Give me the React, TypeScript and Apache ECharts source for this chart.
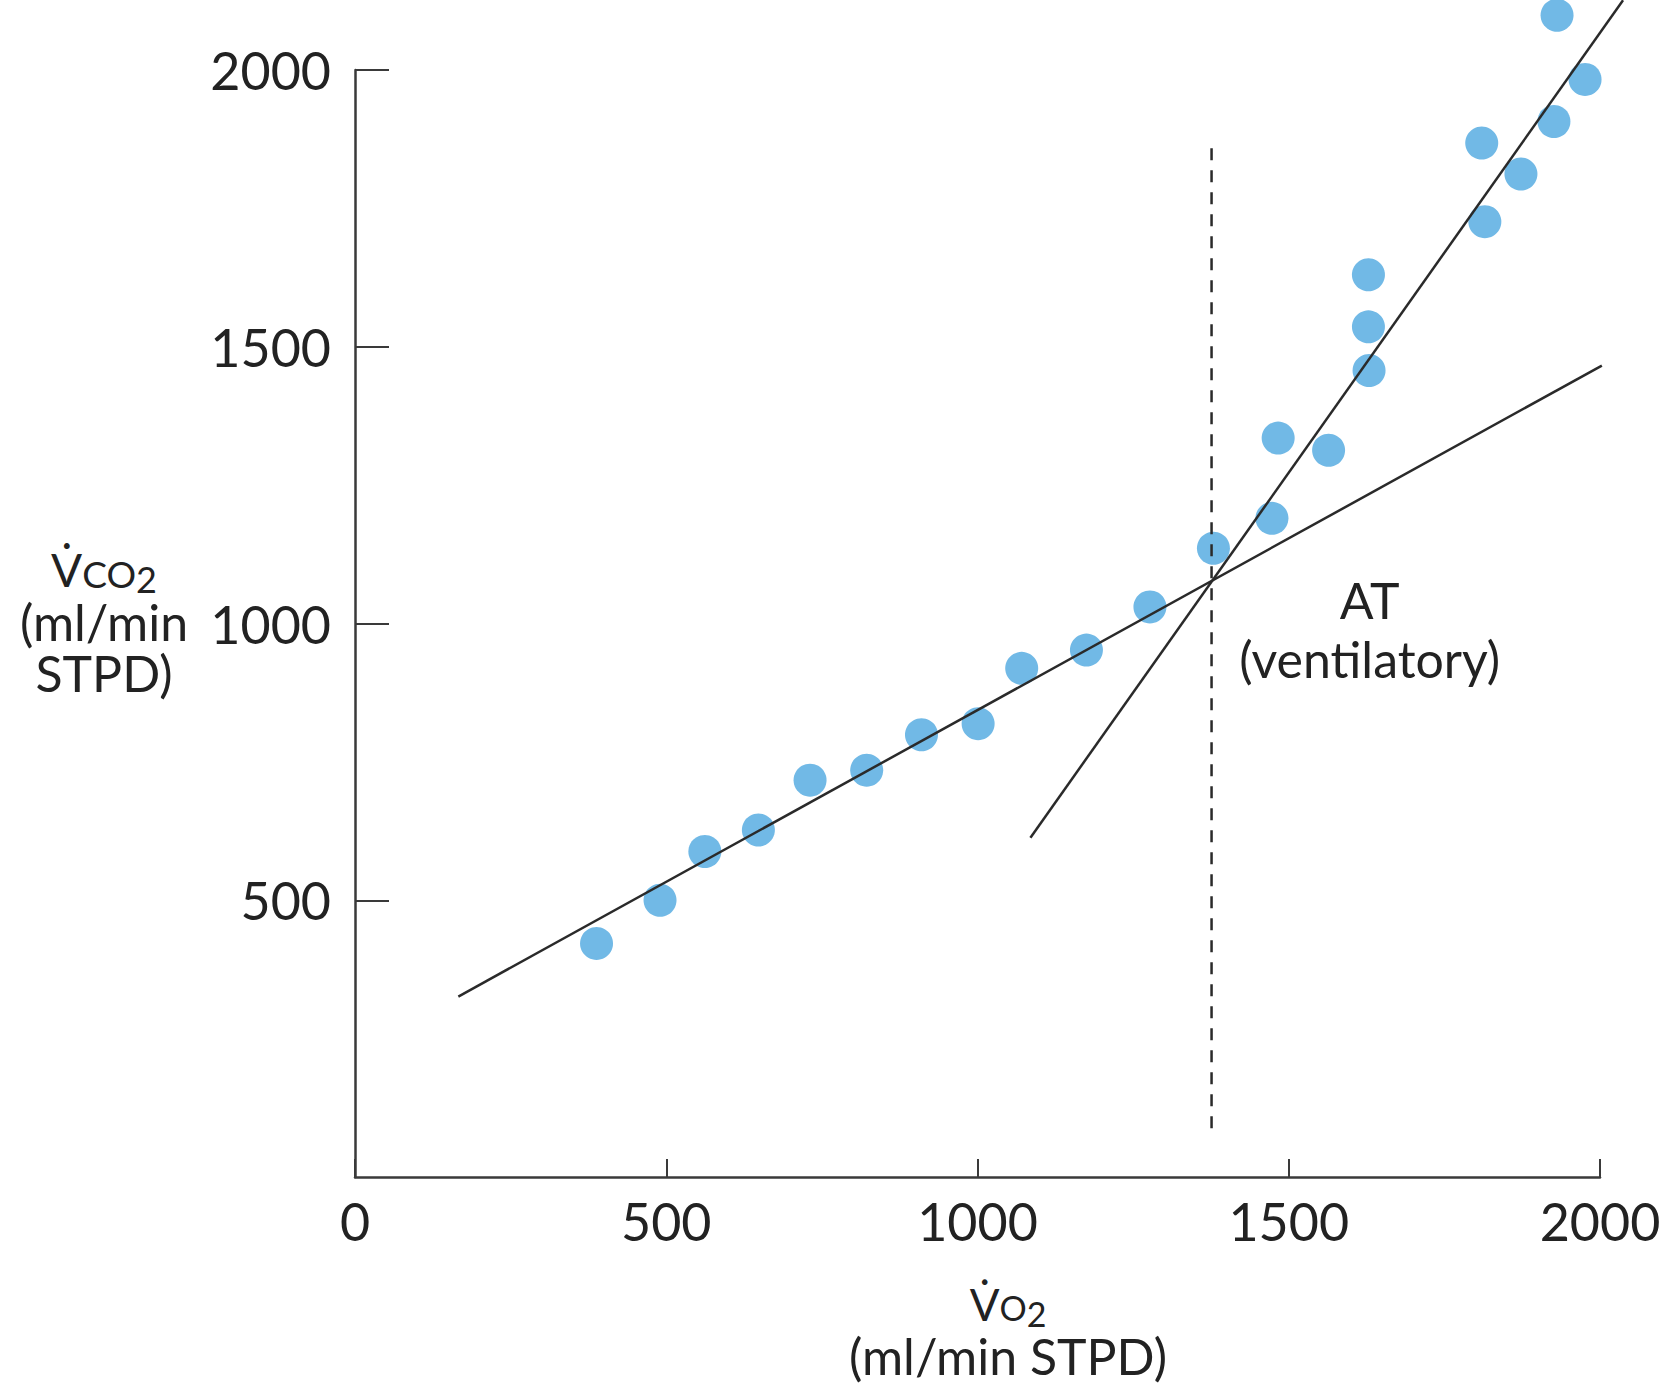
import React, { useEffect, useRef } from 'react';
import * as echarts from 'echarts';

// VO2 (ml/min STPD) and VCO2 (ml/min STPD) measured points
const vo2 = [388, 490, 562, 648, 731, 822, 910, 1001, 1071, 1175, 1277, 1379, 1473, 1483, 1564, 1629, 1628, 1628, 1815, 1810, 1873, 1926, 1976, 1931];
const vco2 = [422, 500, 588, 627, 717, 735, 799, 819, 919, 952, 1030, 1136, 1190, 1335, 1313, 1457, 1536, 1630, 1726, 1868, 1812, 1907, 1983, 2099];

// Fitted regression lines (end points)
const lowerLineX = [166, 2003];
const lowerLineY = [326, 1466];
const upperLineX = [1085, 2037];
const upperLineY = [613, 2126];

// Anaerobic threshold marker
const atVO2 = 1376;
const atLineY = [88, 1864];
const atLabelPos = [1630, 989];
const atLabelText = 'AT\n(ventilatory)';

const axisMin = 0;
const axisMax = 2000;
const axisStep = 500;

const FONT = 'Lato, "Noto Sans", sans-serif';
const TXT = '#222222';
const AX = '#3a3a3a';
const LINE = '#2a2a2a';
const DOT = '#4ea7e0';

function segmentSeries(x: number[], y: number[], dash: number[] | null) {
  return {
    type: 'custom',
    data: [[x[0], y[0], x[1], y[1]]],
    encode: { x: [0, 2], y: [1, 3] },
    clip: false,
    silent: true,
    z: 3,
    renderItem: (_params: any, api: any) => {
      const p1 = api.coord([api.value(0), api.value(1)]);
      const p2 = api.coord([api.value(2), api.value(3)]);
      return {
        type: 'line',
        shape: { x1: p1[0], y1: p1[1], x2: p2[0], y2: p2[1] },
        style: { stroke: LINE, lineWidth: 2.5, lineDash: dash || undefined, fill: null },
      };
    },
  };
}

export default function App() {
  const ref = useRef<HTMLDivElement>(null);
  useEffect(() => {
    const chart = echarts.init(ref.current as HTMLDivElement, null, { renderer: 'svg' });
    chart.setOption({
      animation: false,
      backgroundColor: '#ffffff',
      textStyle: { fontFamily: FONT },
      grid: { left: 355, right: 69, top: 70, bottom: 221, containLabel: false },
      xAxis: {
        type: 'value',
        min: axisMin,
        max: axisMax,
        interval: axisStep,
        axisLine: { show: true, onZero: false, lineStyle: { color: AX, width: 2.5 } },
        axisTick: { show: true, inside: true, length: 18, lineStyle: { color: AX, width: 2 } },
        axisLabel: { fontSize: 52, color: TXT, margin: 18, fontFamily: FONT, formatter: (v: number) => String(v) },
        splitLine: { show: false },
      },
      yAxis: {
        type: 'value',
        min: axisMin,
        max: axisMax,
        interval: axisStep,
        axisLine: { show: true, onZero: false, lineStyle: { color: AX, width: 2.5 } },
        axisTick: { show: true, inside: true, length: 34, lineStyle: { color: AX, width: 2 } },
        axisLabel: { fontSize: 52, color: TXT, margin: 24, fontFamily: FONT, showMinLabel: false, formatter: (v: number) => String(v) },
        splitLine: { show: false },
      },
      series: [
        {
          type: 'scatter',
          data: vo2.map((x, i) => [x, vco2[i]]),
          symbolSize: 33,
          itemStyle: { color: DOT },
          clip: false,
          z: 2,
        },
        segmentSeries(lowerLineX, lowerLineY, null),
        segmentSeries(upperLineX, upperLineY, null),
        segmentSeries([atVO2, atVO2], atLineY, [12, 10]),
        {
          type: 'custom',
          data: [atLabelPos],
          encode: { x: 0, y: 1 },
          clip: false,
          silent: true,
          z: 4,
          renderItem: (_params: any, api: any) => {
            const p = api.coord([api.value(0), api.value(1)]);
            return {
              type: 'text',
              x: p[0],
              y: p[1],
              style: {
                text: atLabelText,
                fill: TXT,
                fontSize: 50,
                fontFamily: FONT,
                lineHeight: 59,
                align: 'center',
                verticalAlign: 'middle',
              },
            };
          },
        },
      ],
      graphic: [
        {
          type: 'text',
          x: 104,
          y: 620,
          style: {
            text: '{v|V\u0307}{c|CO}{s|2}\n{m|(ml/min}\n{m|STPD)}',
            align: 'center',
            verticalAlign: 'middle',
            fill: TXT,
            fontFamily: FONT,
            rich: {
              v: { fontSize: 46, lineHeight: 54, fill: TXT, fontFamily: FONT },
              c: { fontSize: 37, lineHeight: 54, fill: TXT, fontFamily: FONT, padding: [8, 0, 0, 0] },
              s: { fontSize: 36, lineHeight: 54, fill: TXT, fontFamily: FONT, padding: [20, 0, 0, 0] },
              m: { fontSize: 50, lineHeight: 51, fill: TXT, fontFamily: FONT },
            },
          },
        },
        {
          type: 'text',
          x: 1008,
          y: 1330,
          style: {
            text: '{v|V\u0307}{c|O}{s|2}\n{m|(ml/min STPD)}',
            align: 'center',
            verticalAlign: 'middle',
            fill: TXT,
            fontFamily: FONT,
            rich: {
              v: { fontSize: 44, lineHeight: 52, fill: TXT, fontFamily: FONT },
              c: { fontSize: 34, lineHeight: 52, fill: TXT, fontFamily: FONT, padding: [7, 0, 0, 0] },
              s: { fontSize: 34, lineHeight: 52, fill: TXT, fontFamily: FONT, padding: [18, 0, 0, 0] },
              m: { fontSize: 50, lineHeight: 52, fill: TXT, fontFamily: FONT },
            },
          },
        },
      ],
    });
    return () => chart.dispose();
  }, []);
  return (
    <div
      ref={ref}
      style={{ position: 'absolute', left: 0, top: 0, width: 1669, height: 1398, background: '#ffffff' }}
    />
  );
}
